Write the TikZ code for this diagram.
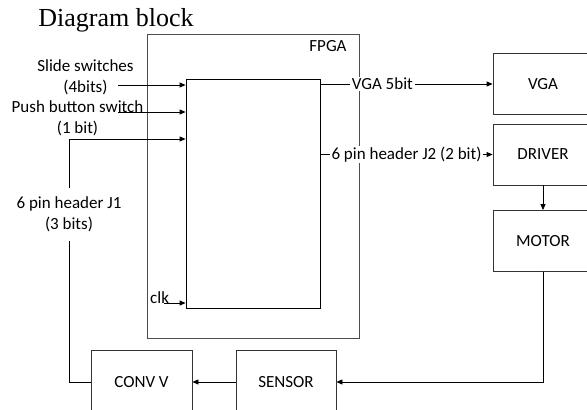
\documentclass[tikz,border=0pt]{standalone}
\usepackage{fontspec}
\setmainfont{Carlito}
\newfontfamily\titlefont{Liberation Serif}
\usetikzlibrary{arrows.meta,positioning}

\begin{document}
\begin{tikzpicture}[
  x=1pt, y=-1pt,
  font=\fontsize{17}{20.5}\selectfont,
  block/.style={draw=black!80, line width=0.8pt, minimum width=100pt,
                minimum height=61pt, inner sep=0pt},
  frame/.style={draw=black!70, line width=0.8pt, inner sep=0pt},
  arr/.style={-{Triangle[length=6pt, width=5pt]}, line width=0.8pt},
  lbl/.style={align=center, inner sep=1pt},
  onwire/.style={fill=white, inner xsep=2pt, inner ysep=1pt},
]
\useasboundingbox (0,0) rectangle (587,410);
\clip (0,0) rectangle (587,410);

\node[anchor=base, font=\titlefont\fontsize{26}{30}\selectfont] (title) at (116,26) {Diagram block};

% FPGA and its inner block
\node[frame, minimum width=212pt, minimum height=304pt] (fpga) at (253,186) {};
\node (fpgalbl) at (328,46) {FPGA};
\node[frame, draw=black, minimum width=134pt, minimum height=229pt] (inner) at (253,193.5) {};

% blocks on the right and at the bottom
\node[block] (vga) at (543,84) {VGA};
\node[block] (drv) at (543,154.5) {DRIVER};
\node[block] (motor) at (543,241) {MOTOR};
\node[block, minimum width=101pt, minimum height=64pt] (conv) at (141.5,382) {CONV V};
\node[block, minimum height=64pt] (sensor) at (286,382) {SENSOR};

% inputs
\node[lbl] (swlbl) at (85.5,77.5) {Slide switches\\(4bits)};
\node[lbl] (pblbl) at (77.5,118.5) {Push button switch\\(1 bit)};
\node[lbl, inner ysep=9pt] (j1) at (69,214.5) {6 pin header J1\\(3 bits)};
\node[anchor=base west, inner sep=0pt] (clk) at (150,303) {clk};
\coordinate (sw) at (118,85);
\coordinate (pb) at (118,112);
\coordinate (j1top) at (69,139);
\coordinate (clkin) at (164,303);

\draw[arr] (sw) -- (sw -| inner.west);
\draw[arr] (pb) -- (pb -| inner.west);
\draw[line width=0.8pt] (conv.west) -| (j1.south);
\draw[arr] (j1.north) -- (j1top) -- (j1top -| inner.west);
\draw[arr] (clkin) -- (clkin -| inner.west);

% outputs
\draw[arr] (inner.east |- vga.west) -- (vga.west)
  node[onwire, pos=0.36] {VGA 5bit};
\draw[arr] (inner.east |- drv.west) -- (drv.west)
  node[onwire, midway] {6 pin header J2 (2 bit)};
\draw[arr] (drv) -- (motor);
\draw[arr] (motor.south) |- (sensor.east);
\draw[arr] (sensor.west) -- (conv.east);
\end{tikzpicture}
\end{document}
